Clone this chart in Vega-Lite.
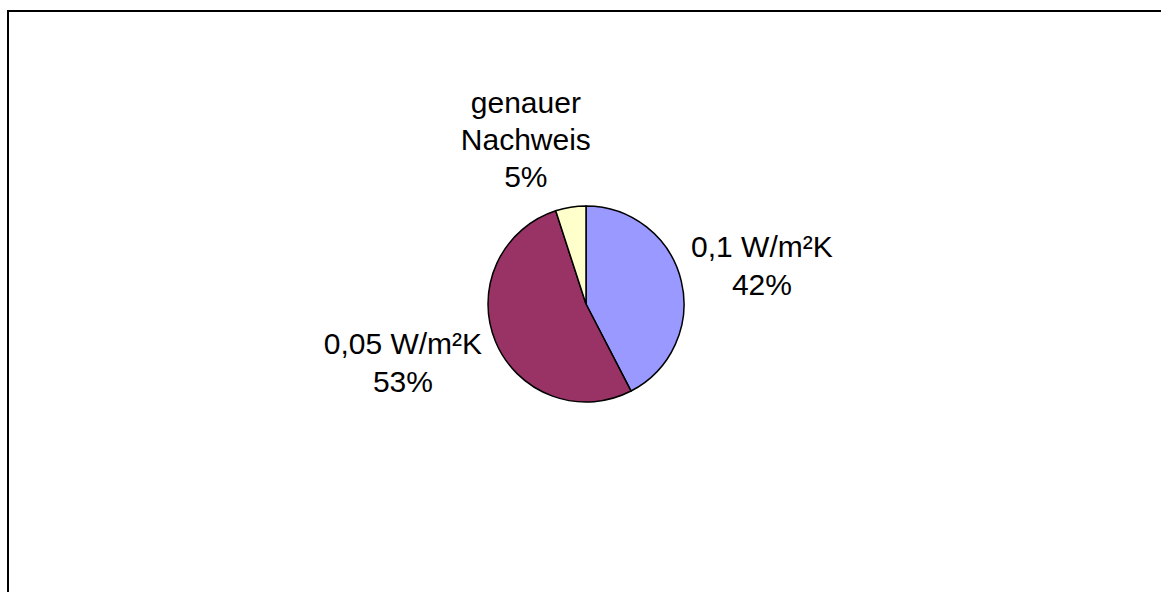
{
  "$schema": "https://vega.github.io/schema/vega-lite/v6.json",
  "width": 1156,
  "height": 586,
  "autosize": {"type": "none"},
  "padding": {"left": 8, "top": 11, "right": -3, "bottom": -5},
  "background": "#ffffff",
  "view": {"stroke": "#000000", "strokeWidth": 2},
  "config": {"view": {"stroke": "#000000", "strokeWidth": 2}, "style": {"cell": {"stroke": "#000000", "strokeWidth": 2}}},
  "data": {
    "values": [
      {"category": "0,1 W/m²K", "value": 42.4, "order": 1},
      {"category": "0,05 W/m²K", "value": 52.6, "order": 2},
      {"category": "genauer Nachweis", "value": 5.0, "order": 3}
    ]
  },
  "transform": [
    {"stack": "value", "sort": [{"field": "order"}], "as": ["t0", "t1"]},
    {"calculate": "(datum.t0 + datum.t1) / 2", "as": "mid"},
    {"calculate": "format(datum.value, '.0f') + '%'", "as": "pct"}
  ],
  "layer": [
    {
      "mark": {"type": "arc", "outerRadius": 98, "stroke": "#000000", "strokeWidth": 1.5},
      "encoding": {
        "theta": {"field": "t0", "type": "quantitative", "scale": {"domain": [0, 100]}},
        "theta2": {"field": "t1"},
        "color": {
          "field": "category",
          "type": "nominal",
          "scale": {
            "domain": ["0,1 W/m²K", "0,05 W/m²K", "genauer Nachweis"],
            "range": ["#9999FF", "#993366", "#FFFFCC"]
          },
          "legend": null
        }
      }
    },
    {
      "transform": [
        {"filter": "datum.order == 1"},
        {"calculate": "datum.category + '\\n' + datum.pct", "as": "lbl"}
      ],
      "mark": {"type": "text", "radius": 180, "dx": 1, "dy": -13, "font": "Liberation Sans", "fontSize": 30, "lineBreak": "\n", "lineHeight": 38, "align": "center", "baseline": "middle", "color": "#000000"},
      "encoding": {
        "theta": {"field": "mid", "type": "quantitative"},
        "text": {"field": "lbl", "type": "nominal"}
      }
    },
    {
      "transform": [
        {"filter": "datum.order == 2"},
        {"calculate": "datum.category + '\\n' + datum.pct", "as": "lbl"}
      ],
      "mark": {"type": "text", "radius": 180, "dx": -17, "dy": -28, "font": "Liberation Sans", "fontSize": 30, "lineBreak": "\n", "lineHeight": 38, "align": "center", "baseline": "middle", "color": "#000000"},
      "encoding": {
        "theta": {"field": "mid", "type": "quantitative"},
        "text": {"field": "lbl", "type": "nominal"}
      }
    },
    {
      "transform": [
        {"filter": "datum.order == 3"},
        {"calculate": "datum.category + ' ' + datum.pct", "as": "lbl"}
      ],
      "mark": {"type": "text", "radius": 180, "dx": -32, "dy": -22, "font": "Liberation Sans", "fontSize": 30, "lineBreak": " ", "lineHeight": 37, "align": "center", "baseline": "middle", "color": "#000000"},
      "encoding": {
        "theta": {"field": "mid", "type": "quantitative"},
        "text": {"field": "lbl", "type": "nominal"}
      }
    }
  ]
}
